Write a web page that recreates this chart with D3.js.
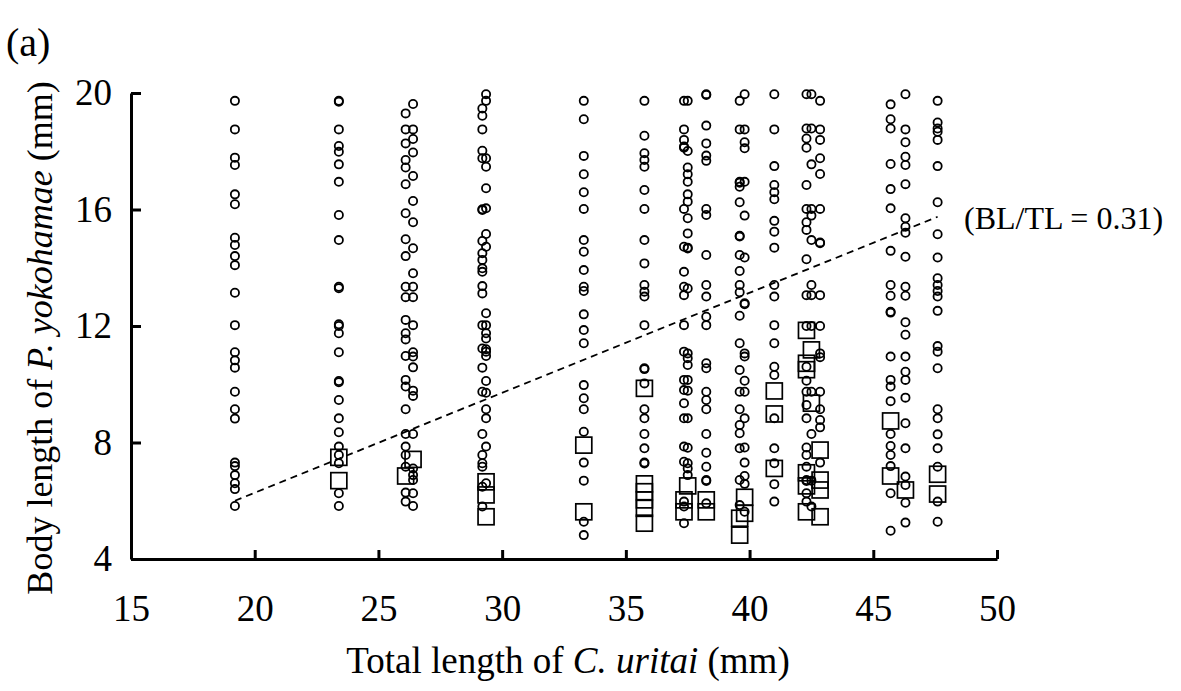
<!DOCTYPE html>
<html>
<head>
<meta charset="utf-8">
<script src="https://cdn.jsdelivr.net/npm/d3@7"></script>
<style>
    body { margin: 0; background: #fff; }
    svg text { font-family: "Liberation Serif", "Times New Roman", serif; fill: #000; }
</style>
</head>
<body>
<svg id="chart" width="1181" height="691"></svg>
<script>
// total length of C. uritai for each column of points (mm)
var groupTL = [19.2, 23.4, 26.1, 26.4, 29.2, 29.35, 33.3, 35.75, 37.35, 37.5,
               38.25, 39.6, 39.8, 41.0, 42.3, 42.5, 42.85, 45.7, 46.3, 47.6];

// body length of P. yokohamae, circles (one array per column)
var circleBL = [
    [19.73, 18.75, 17.78, 17.53, 16.52, 16.18, 15.03, 14.78, 14.40, 14.09, 13.14, 12.03, 11.10, 10.82, 10.57, 9.74, 9.14, 8.82, 7.31, 7.19, 6.88, 6.60, 6.40, 5.82],
    [19.73, 19.70, 18.75, 18.18, 17.98, 17.55, 16.95, 15.81, 14.95, 13.35, 13.30, 12.06, 12.0, 11.75, 11.10, 10.11, 10.07, 9.46, 8.83, 8.35, 7.86, 7.57, 7.29, 6.26, 5.82],
    [19.30, 18.75, 18.27, 17.70, 17.44, 16.87, 15.87, 14.98, 14.40, 13.35, 12.99, 12.21, 11.75, 11.54, 10.97, 10.15, 9.92, 9.14, 8.29, 7.86, 7.57, 7.17, 6.28, 5.97],
    [19.62, 18.75, 18.42, 17.96, 17.15, 16.29, 15.56, 14.67, 13.81, 13.35, 12.99, 12.03, 11.10, 10.95, 10.58, 9.78, 9.60, 8.29, 7.11, 6.88, 6.71, 6.26, 5.82],
    [19.47, 19.22, 18.75, 18.02, 17.76, 16.01, 15.98, 14.92, 14.50, 14.27, 13.98, 13.86, 13.37, 13.12, 12.03, 11.23, 10.57, 9.74, 8.29, 7.57, 7.29, 7.17, 6.48, 5.80],
    [19.96, 19.73, 17.76, 17.47, 16.73, 16.04, 15.16, 14.72, 12.44, 12.03, 11.75, 11.57, 11.20, 11.12, 10.97, 10.11, 9.71, 9.14, 8.83, 7.86, 6.60],
    [19.73, 19.10, 17.84, 17.21, 16.59, 16.02, 14.95, 14.55, 13.92, 13.35, 13.20, 12.40, 11.86, 11.41, 9.97, 9.52, 9.14, 8.37, 7.31, 6.69, 5.28, 4.82],
    [19.73, 18.53, 17.93, 17.70, 17.47, 16.67, 16.02, 14.95, 14.15, 13.41, 13.18, 13.01, 12.03, 10.55, 10.52, 10.03, 9.14, 8.83, 8.29, 7.80, 7.31, 7.28],
    [19.73, 18.75, 18.39, 18.16, 18.12, 16.02, 14.72, 13.86, 13.35, 13.06, 12.03, 11.12, 10.15, 9.80, 9.35, 8.83, 7.86, 7.34, 5.97, 5.80, 5.23],
    [19.73, 18.01, 17.44, 17.21, 16.95, 16.52, 16.27, 15.70, 15.18, 14.69, 14.66, 13.29, 11.06, 10.89, 10.66, 10.15, 9.78, 8.83, 7.82, 7.29, 7.11, 6.88],
    [19.96, 19.93, 18.88, 18.27, 17.85, 17.67, 16.02, 15.81, 14.44, 13.41, 13.01, 12.32, 12.03, 10.72, 10.55, 9.74, 9.46, 9.14, 8.29, 7.65, 7.17, 6.71, 6.68, 5.91],
    [19.73, 18.75, 16.95, 16.92, 16.78, 16.25, 15.10, 15.07, 14.44, 13.89, 13.41, 13.16, 12.35, 11.41, 10.49, 9.74, 9.14, 8.60, 8.32, 7.80, 6.71, 5.85],
    [19.96, 18.75, 18.31, 18.10, 16.95, 15.79, 14.35, 12.78, 12.75, 11.06, 10.95, 10.12, 9.74, 8.83, 7.83, 7.31, 6.85, 6.58, 5.62],
    [19.96, 18.75, 17.49, 16.84, 16.59, 16.35, 15.61, 15.24, 14.69, 13.41, 13.01, 12.03, 11.41, 10.60, 10.32, 8.83, 7.80, 7.29, 6.57, 5.97],
    [19.96, 18.78, 18.44, 18.12, 16.84, 16.02, 15.56, 15.30, 14.29, 13.06, 12.0, 10.60, 10.12, 9.74, 9.29, 8.83, 7.83, 7.57, 7.17, 6.71, 6.68, 6.26, 5.97],
    [19.96, 18.78, 17.55, 16.02, 15.79, 14.95, 13.41, 13.06, 12.0, 9.74, 8.29, 6.69, 5.80],
    [19.73, 18.75, 18.39, 17.76, 17.22, 16.02, 14.87, 14.84, 13.06, 12.0, 11.06, 10.93, 9.74, 9.14, 8.77, 8.52, 7.31],
    [19.61, 19.10, 18.78, 17.56, 16.70, 16.04, 14.58, 13.41, 13.04, 12.49, 12.46, 10.95, 10.15, 9.92, 9.42, 8.29, 7.88, 7.57, 7.19, 6.26, 4.97],
    [19.96, 18.75, 18.31, 17.81, 17.53, 16.87, 15.70, 15.41, 15.20, 14.38, 13.35, 13.04, 12.13, 11.70, 10.95, 10.43, 10.15, 9.54, 8.66, 7.80, 6.83, 6.54, 5.93, 5.25],
    [19.73, 18.99, 18.78, 18.67, 18.39, 17.49, 16.25, 15.15, 14.35, 13.64, 13.41, 13.20, 13.01, 12.52, 11.31, 11.12, 10.55, 9.14, 8.83, 8.28, 7.80, 7.17, 5.97, 5.28]
];

// body length of P. yokohamae, squares (same columns)
var squareBL = [
    [],
    [7.49, 6.69],
    [6.85],
    [7.42],
    [],
    [6.65, 6.20, 5.45],
    [7.91, 5.62],
    [9.86, 6.58, 6.31, 6.03, 5.74, 5.23],
    [6.03, 5.62],
    [6.51],
    [6.03, 5.62],
    [5.40, 4.82],
    [6.12, 5.57],
    [9.77, 8.98, 7.11],
    [11.85, 10.72, 10.50, 6.96, 6.51, 5.62],
    [11.18, 9.35],
    [7.74, 6.71, 6.37, 5.45],
    [8.74, 6.85],
    [6.37],
    [6.91, 6.23]
];

// dashed reference line BL/TL
var lineTL = [19.2, 47.6];
var lineBL = [6.0, 15.75];

var xTicks = [15, 20, 25, 30, 35, 40, 45, 50];
var yTicks = [4, 8, 12, 16, 20];

var svg = d3.select("#chart");

var x = d3.scaleLinear().domain([15, 50]).range([131, 997]);
var y = d3.scaleLinear().domain([4, 20]).range([559, 93]);

// flatten groups into points
var circles = [], squares = [];
groupTL.forEach(function (tl, i) {
    circleBL[i].forEach(function (bl) { circles.push({tl: tl, bl: bl}); });
    squareBL[i].forEach(function (bl) { squares.push({tl: tl, bl: bl}); });
});

// axes
var xAxis = svg.append("g")
    .attr("transform", "translate(0,559)")
    .call(d3.axisBottom(x).tickValues(xTicks).tickSizeInner(-9).tickSizeOuter(0).tickPadding(36));
var yAxis = svg.append("g")
    .attr("transform", "translate(131,0)")
    .call(d3.axisLeft(y).tickValues(yTicks).tickSizeInner(-10).tickSizeOuter(0).tickPadding(19));

[xAxis, yAxis].forEach(function (a) {
    a.select(".domain").attr("stroke", "#000").attr("stroke-width", 3);
    a.selectAll(".tick line").attr("stroke", "#000").attr("stroke-width", 3);
    a.selectAll(".tick text")
        .attr("font-family", "Liberation Serif")
        .attr("font-size", 37)
        .attr("fill", "#000");
});

// dashed line
svg.append("path")
    .attr("d", d3.line()(lineTL.map(function (t, i) { return [x(t), y(lineBL[i])]; })))
    .attr("fill", "none")
    .attr("stroke", "#000")
    .attr("stroke-width", 1.8)
    .attr("stroke-dasharray", "7,5");

// circles
svg.append("g").selectAll("circle")
    .data(circles)
    .enter()
    .append("circle")
    .attr("cx", function (d) { return x(d.tl); })
    .attr("cy", function (d) { return y(d.bl); })
    .attr("r", 4.1)
    .attr("fill", "none")
    .attr("stroke", "#000")
    .attr("stroke-width", 1.8);

// squares
var s = 16;
svg.append("g").selectAll("rect")
    .data(squares)
    .enter()
    .append("rect")
    .attr("x", function (d) { return x(d.tl) - s / 2; })
    .attr("y", function (d) { return y(d.bl) - s / 2; })
    .attr("width", s)
    .attr("height", s)
    .attr("fill", "none")
    .attr("stroke", "#000")
    .attr("stroke-width", 1.7);

// labels
svg.append("text")
    .attr("x", 6).attr("y", 56)
    .attr("font-size", 40)
    .text("(a)");

svg.append("text")
    .attr("x", 964).attr("y", 229)
    .attr("font-size", 32)
    .text("(BL/TL = 0.31)");

var xt = svg.append("text")
    .attr("x", 568).attr("y", 673)
    .attr("text-anchor", "middle")
    .attr("font-size", 37);
xt.append("tspan").text("Total length of ");
xt.append("tspan").attr("font-style", "italic").text("C. uritai");
xt.append("tspan").text(" (mm)");

var yt = svg.append("text")
    .attr("transform", "translate(52,338) rotate(-90)")
    .attr("text-anchor", "middle")
    .attr("font-size", 36);
yt.append("tspan").text("Body length of ");
yt.append("tspan").attr("font-style", "italic").text("P. yokohamae");
yt.append("tspan").text(" (mm)");
</script>
</body>
</html>
